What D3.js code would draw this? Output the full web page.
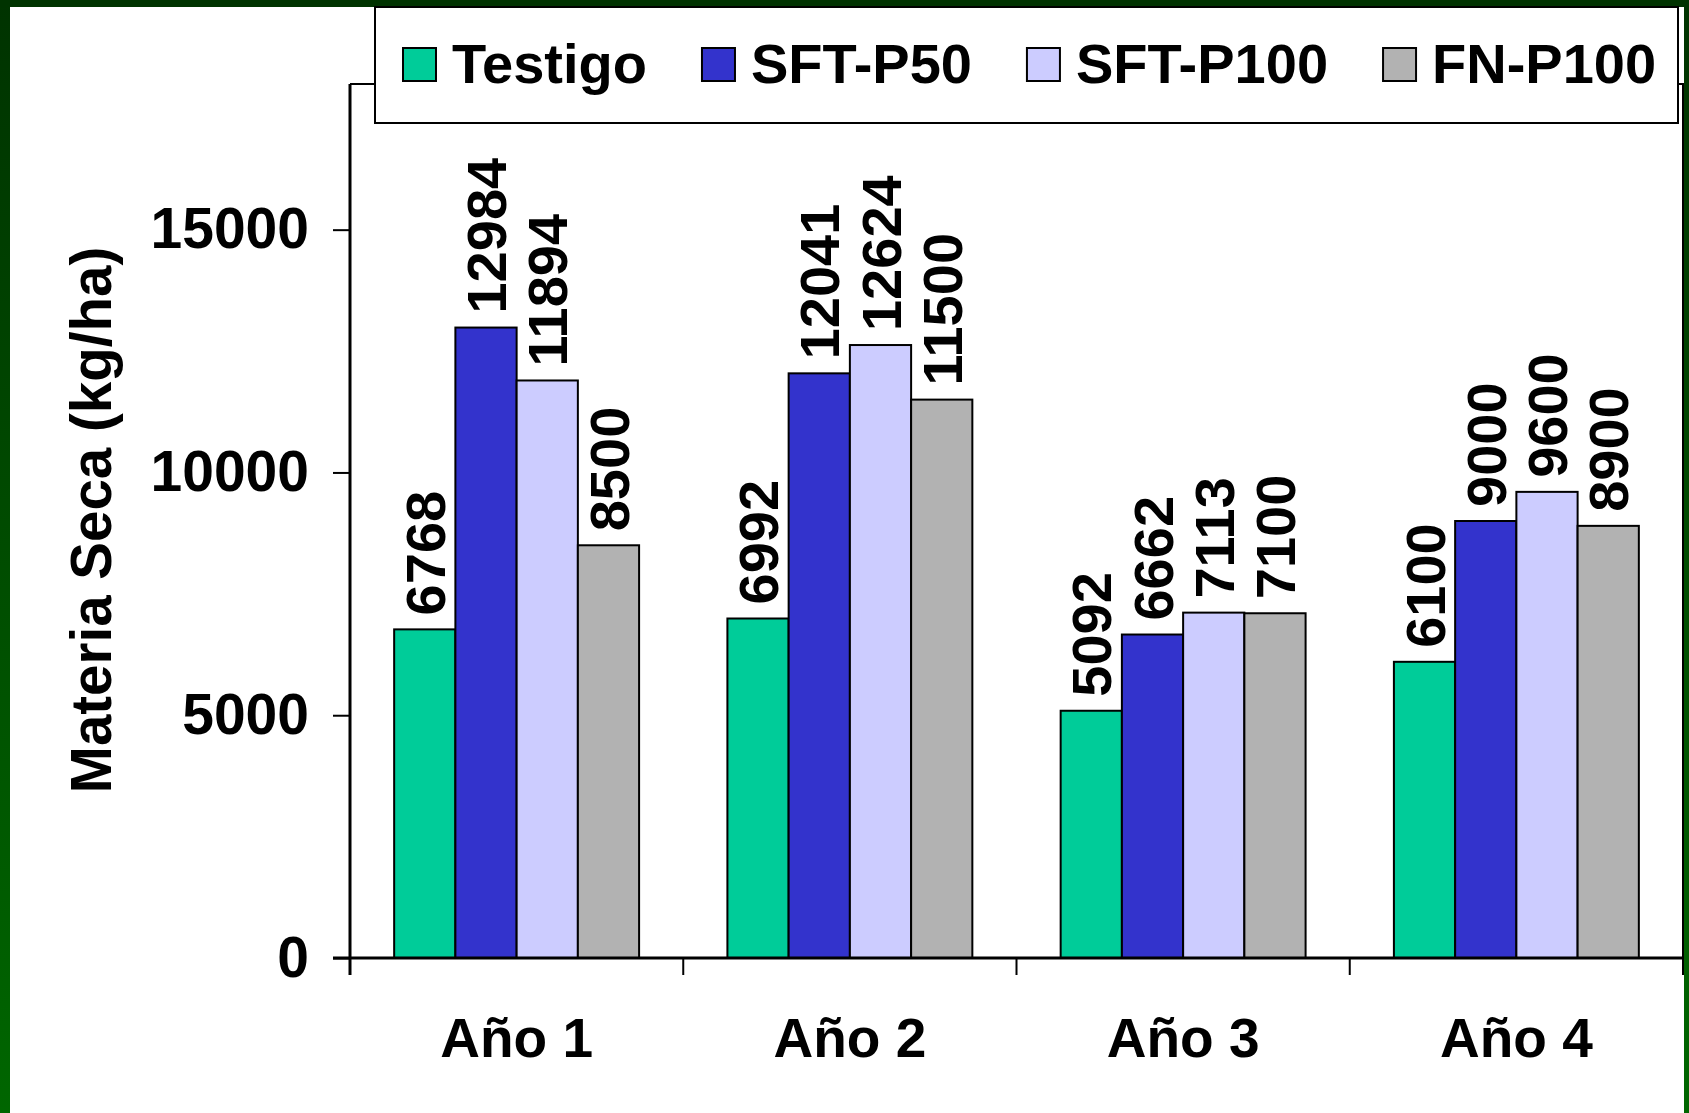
<!DOCTYPE html>
<html>
<head>
<meta charset="utf-8">
<script src="https://cdn.jsdelivr.net/npm/d3@7"></script>
<style>
  html, body { margin: 0; padding: 0; background: #ffffff; }
  svg { display: block; }
  text { font-family: "Liberation Sans", Arial, sans-serif; font-weight: bold; fill: #000; }
</style>
</head>
<body>
<svg id="chart" width="1689" height="1113"></svg>
<script>
const categories = ["Año 1", "Año 2", "Año 3", "Año 4"];
const seriesNames = ["Testigo", "SFT-P50", "SFT-P100", "FN-P100"];
const testigo = [6768, 6992, 5092, 6100];
const sftP50 = [12984, 12041, 6662, 9000];
const sftP100 = [11894, 12624, 7113, 9600];
const fnP100 = [8500, 11500, 7100, 8900];
const yTicks = [0, 5000, 10000, 15000];
const colors = ["#00CC99", "#3333CC", "#CCCCFF", "#B2B2B2"];

(function () {
const seriesValues = [testigo, sftP50, sftP100, fnP100];
const W = 1689, H = 1113;
const svg = d3.select("#chart");

// frame
const defs = svg.append("defs");
const grad = defs.append("linearGradient").attr("id", "frameGrad")
  .attr("x1", 0).attr("y1", 0).attr("x2", 0).attr("y2", 1);
grad.append("stop").attr("offset", "0%").attr("stop-color", "#003300");
grad.append("stop").attr("offset", "100%").attr("stop-color", "#006600");

svg.append("rect").attr("x", 0).attr("y", 0).attr("width", W).attr("height", H).attr("fill", "#ffffff");
svg.append("rect").attr("x", 0).attr("y", 0).attr("width", 10).attr("height", H).attr("fill", "url(#frameGrad)");
svg.append("rect").attr("x", 1684).attr("y", 0).attr("width", 5).attr("height", H).attr("fill", "url(#frameGrad)");
svg.append("rect").attr("x", 0).attr("y", 0).attr("width", W).attr("height", 7).attr("fill", "#003300");

const pL = 350, pR = 1683, pT = 84, pB = 958;

const x0 = d3.scaleBand().domain(categories).range([pL, pR])
  .paddingInner(0.265).paddingOuter(0.1325);
const x1 = d3.scaleBand().domain(seriesNames).range([0, x0.bandwidth()]).padding(0);
const y = d3.scaleLinear().domain([0, 18000]).range([pB, pT]);

// plot area top/right border
svg.append("path")
  .attr("d", `M${pL},${pT}H${pR}V${pB}`)
  .attr("fill", "none").attr("stroke", "#000").attr("stroke-width", 2);

// bars
const groups = svg.append("g").selectAll("g")
  .data(categories).join("g")
  .attr("transform", d => `translate(${x0(d)},0)`);

groups.selectAll("rect")
  .data((d, i) => seriesNames.map((s, j) => ({ s, j, v: seriesValues[j][i] })))
  .join("rect")
  .attr("x", d => x1(d.s))
  .attr("y", d => y(d.v))
  .attr("width", x1.bandwidth())
  .attr("height", d => y(0) - y(d.v))
  .attr("fill", d => colors[d.j])
  .attr("stroke", "#000")
  .attr("stroke-width", 2);

groups.selectAll("text.val")
  .data((d, i) => seriesNames.map((s, j) => ({ s, j, v: seriesValues[j][i] })))
  .join("text")
  .attr("class", "val")
  .attr("transform", d => `translate(${x1(d.s) + x1.bandwidth() / 2},${y(d.v) - 14}) rotate(-90)`)
  .attr("dy", "0.36em")
  .attr("text-anchor", "start")
  .style("font-size", "56px")
  .text(d => d.v);

// y axis
const yAxis = svg.append("g").attr("transform", `translate(${pL},0)`)
  .call(d3.axisLeft(y).tickValues(yTicks).tickFormat(d3.format("d"))
    .tickSize(17).tickPadding(24).tickSizeOuter(0));
yAxis.select(".domain").attr("stroke", "#000").attr("stroke-width", 3)
  .attr("d", `M0,${pT}V${pB + 17}`);
yAxis.selectAll(".tick line").attr("stroke", "#000").attr("stroke-width", 2);
yAxis.selectAll(".tick text").style("font-size", "57px")
  .style("font-family", '"Liberation Sans", Arial, sans-serif').style("font-weight", "bold")
  .attr("fill", "#000");

// x axis
const xTickPositions = categories.map(c => x0(c) - x0.step() * x0.paddingInner() / 2).concat([pR]);
const xAxisG = svg.append("g");
xAxisG.append("line").attr("x1", pL - 17).attr("x2", pR).attr("y1", pB).attr("y2", pB)
  .attr("stroke", "#000").attr("stroke-width", 3);
xAxisG.selectAll("line.tk").data(xTickPositions).join("line").attr("class", "tk")
  .attr("x1", d => d).attr("x2", d => d).attr("y1", pB).attr("y2", pB + 17)
  .attr("stroke", "#000").attr("stroke-width", 2);
xAxisG.selectAll("text").data(categories).join("text")
  .attr("x", d => x0(d) + x0.bandwidth() / 2)
  .attr("y", 1057)
  .attr("text-anchor", "middle")
  .style("font-size", "55px")
  .text(d => d);

// y title
svg.append("text")
  .attr("transform", `translate(111,520) rotate(-90)`)
  .attr("text-anchor", "middle")
  .style("font-size", "56.5px")
  .text("Materia Seca (kg/ha)");

// legend
const lg = svg.append("g");
lg.append("rect").attr("x", 375).attr("y", 7).attr("width", 1303).attr("height", 116)
  .attr("fill", "#fff").attr("stroke", "#000").attr("stroke-width", 2);
let lx = 403;
seriesNames.forEach((s, i) => {
  lg.append("rect").attr("x", lx).attr("y", 48).attr("width", 33).attr("height", 33)
    .attr("fill", colors[i]).attr("stroke", "#000").attr("stroke-width", 2);
  const t = lg.append("text").attr("x", lx + 49).attr("y", 83)
    .style("font-size", "56px").text(s);
  const w = t.node().getComputedTextLength();
  lx = lx + 49 + w + 55;
});
})();
</script>
</body>
</html>
